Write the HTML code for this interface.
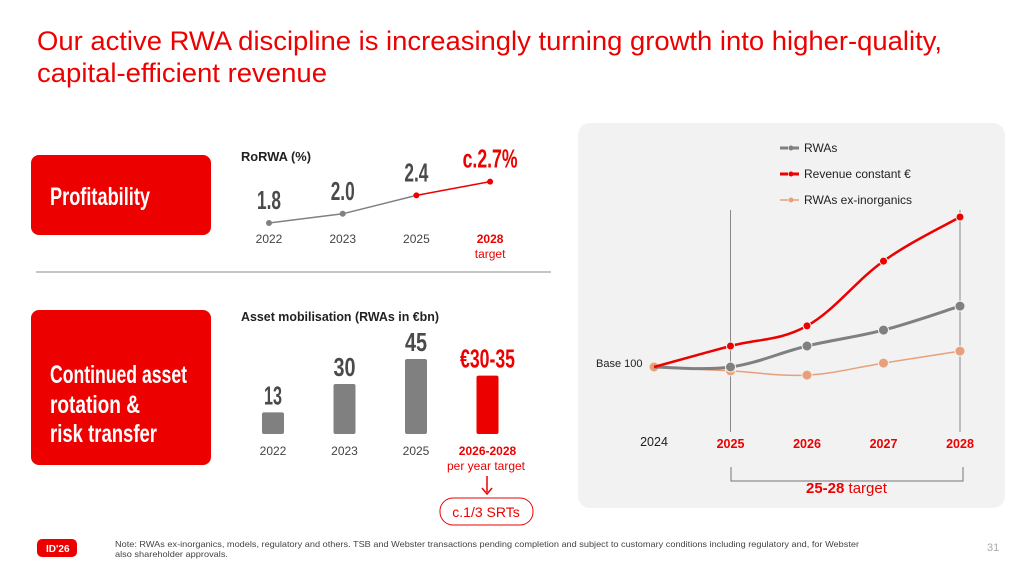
<!DOCTYPE html>
<html><head><meta charset="utf-8"><style>
html,body{margin:0;padding:0;background:#fff;}
svg{display:block;font-family:"Liberation Sans",sans-serif;}
</style></head><body>
<svg id="s" width="1025" height="577" viewBox="0 0 1025 577" xmlns="http://www.w3.org/2000/svg">
<text x="37" y="50" font-size="27" fill="#ec0000" textLength="905" lengthAdjust="spacingAndGlyphs">Our active RWA discipline is increasingly turning growth into higher-quality,</text>
<text x="37" y="82" font-size="27" fill="#ec0000" textLength="290" lengthAdjust="spacingAndGlyphs">capital-efficient revenue</text>

<rect x="31" y="155" width="180" height="80" rx="8" fill="#ec0000"/>
<text x="50" y="205" font-size="25" font-weight="bold" fill="#fff" textLength="100" lengthAdjust="spacingAndGlyphs">Profitability</text>
<line x1="36" y1="272" x2="551" y2="272" stroke="#888" stroke-width="1"/>
<rect x="31" y="310" width="180" height="155" rx="8" fill="#ec0000"/>
<g font-size="25" font-weight="bold" fill="#fff">
<text x="50" y="383" textLength="137" lengthAdjust="spacingAndGlyphs">Continued asset</text>
<text x="50" y="413" textLength="90" lengthAdjust="spacingAndGlyphs">rotation &amp;</text>
<text x="50" y="442" textLength="107" lengthAdjust="spacingAndGlyphs">risk transfer</text>
</g>

<text x="241" y="161" font-size="13" font-weight="bold" fill="#222" textLength="70" lengthAdjust="spacingAndGlyphs">RoRWA (%)</text>
<g id="rorwa"></g>
<text x="241" y="321" font-size="13" font-weight="bold" fill="#222" textLength="198" lengthAdjust="spacingAndGlyphs">Asset mobilisation (RWAs in €bn)</text>
<g id="bars"></g>
<text x="486" y="470" font-size="12" fill="#ec0000" text-anchor="middle">per year target</text>
<line x1="487" y1="476" x2="487" y2="492" stroke="#ec0000" stroke-width="1.5"/>
<path d="M482 488 L487 494 L492 488" fill="none" stroke="#ec0000" stroke-width="1.5"/>
<rect x="440" y="498" width="93" height="27" rx="13" fill="#fff" stroke="#ec0000" stroke-width="1"/>
<text x="486" y="517" font-size="14" fill="#ec0000" text-anchor="middle">c.1/3 SRTs</text>

<rect x="578" y="123" width="427" height="385" rx="12" fill="#f2f2f2"/>
<g font-size="12" fill="#222">
<line x1="780" y1="148" x2="802" y2="148" stroke="#808080" stroke-width="3" stroke-dasharray="8,3"/><circle cx="791" cy="148" r="2.5" fill="#808080"/>
<text x="804" y="152">RWAs</text>
<line x1="780" y1="174" x2="802" y2="174" stroke="#ec0000" stroke-width="3" stroke-dasharray="8,3"/><circle cx="791" cy="174" r="2.5" fill="#ec0000"/>
<text x="804" y="178">Revenue constant €</text>
<line x1="780" y1="200" x2="802" y2="200" stroke="#e8a07a" stroke-width="1.5" stroke-dasharray="8,3"/><circle cx="791" cy="200" r="2.5" fill="#e8a07a"/>
<text x="804" y="204">RWAs ex-inorganics</text>
</g>
<g id="lines"></g>
<text x="596" y="367" font-size="11" fill="#222">Base 100</text>
<path d="M731 467 V481 H963 V467" fill="none" stroke="#777" stroke-width="1"/>
<text x="806" y="493" font-size="15" fill="#ec0000"><tspan font-weight="bold">25-28</tspan> target</text>

<rect x="37" y="539" width="40" height="18" rx="5" fill="#ec0000"/>
<text x="46" y="552" font-size="10" font-weight="bold" fill="#fff">ID'26</text>
<text x="115" y="547" font-size="8.5" fill="#444" textLength="744" lengthAdjust="spacingAndGlyphs">Note: RWAs ex-inorganics, models, regulatory and others. TSB and Webster transactions pending completion and subject to customary conditions including regulatory and, for Webster</text>
<text x="115" y="557" font-size="8.5" fill="#444" textLength="113" lengthAdjust="spacingAndGlyphs">also shareholder approvals.</text>
<text x="987" y="551" font-size="11" fill="#aaa">31</text>
</svg>
<script>
const NS="http://www.w3.org/2000/svg";
// RoRWA data
const rorwaYears=["2022","2023","2025","2028"];
const rorwaValues=[1.8,2.0,2.4,2.7];
const rorwaLabels=["1.8","2.0","2.4","c.2.7%"];
// Asset mobilisation data
const barYears=["2022","2023","2025","2026-2028"];
const barValues=[13,30,45,35];
const barLabels=["13","30","45","€30-35"];
// Line chart data (index, base 100)
const lineYears=["2024","2025","2026","2027","2028"];
const rwaSeries=[100,100,107,112.3,120.3];
const revenueSeries=[100,107,113.7,135.3,150];
const exInorgSeries=[100,98.7,97.3,101.3,105.3];

function mk(tag,attrs,parent,txt){const e=document.createElementNS(NS,tag);for(const k in attrs)e.setAttribute(k,attrs[k]);if(txt!==undefined)e.textContent=txt;parent.appendChild(e);return e;}

// RoRWA
(function(){
const g=document.getElementById('rorwa');
const xr=i=>269+i*73.7;
const yr=v=>223-(v-1.8)*46;
for(let i=0;i<rorwaValues.length-1;i++){
  const l=mk('line',{x1:xr(i),y1:yr(rorwaValues[i]),x2:xr(i+1),y2:yr(rorwaValues[i+1]),stroke:i==2?'#ec0000':'#808080','stroke-width':1.5},g);
  
  
}
rorwaValues.forEach((v,i)=>{
  const red=i==3||i==2;
  const c=mk('circle',{cx:xr(i),cy:yr(v),r:3,fill:red?'#ec0000':'#808080'},g);
  
  
  const t=mk('text',{x:xr(i),y:yr(v)-14,'font-size':26,'font-weight':'bold',fill:i==3?'#ec0000':'#4a4a4a','text-anchor':'middle',textLength:i==3?55:24,lengthAdjust:'spacingAndGlyphs'},g,rorwaLabels[i]);
  
  
  const y=mk('text',{x:xr(i),y:243,'font-size':12,fill:i==3?'#ec0000':'#444','text-anchor':'middle','font-weight':i==3?'bold':'normal'},g,rorwaYears[i]);
  
  
});
mk('text',{x:xr(3),y:258,'font-size':12,fill:'#ec0000','text-anchor':'middle'},g,'target');
})();

// Bars
(function(){
const g=document.getElementById('bars');
const xb=i=>273+i*71.5;
const h=v=>v*1.667;
const base=434;
barValues.forEach((v,i)=>{
  const red=i==3;
  const r=mk('rect',{x:xb(i)-11,y:base-h(v),width:22,height:h(v),rx:2,fill:red?'#ec0000':'#808080'},g);
  
  
  const t=mk('text',{x:xb(i),y:base-h(v)-8,'font-size':26,'font-weight':'bold',fill:red?'#ec0000':'#4a4a4a','text-anchor':'middle',textLength:red?55:(v<20?18:22),lengthAdjust:'spacingAndGlyphs'},g,barLabels[i]);
  
  
  const y=mk('text',{x:xb(i),y:455,'font-size':12,fill:red?'#ec0000':'#444','text-anchor':'middle','font-weight':red?'bold':'normal'},g,barYears[i]);
  
  
});
})();

// Lines
(function(){
const g=document.getElementById('lines');
const xl=i=>654+i*76.5;
const yl=v=>367-(v-100)*3;
[1,4].forEach(i=>{const l=mk('line',{x1:xl(i),y1:210,x2:xl(i),y2:432,stroke:'#888','stroke-width':1},g);

});
function smooth(pts){let d='M'+pts[0][0]+' '+pts[0][1];for(let i=0;i<pts.length-1;i++){const p0=pts[i-1]||pts[i],p1=pts[i],p2=pts[i+1],p3=pts[i+2]||p2;const t=0.18;d+=' C'+(p1[0]+(p2[0]-p0[0])*t)+' '+(p1[1]+(p2[1]-p0[1])*t)+' '+(p2[0]-(p3[0]-p1[0])*t)+' '+(p2[1]-(p3[1]-p1[1])*t)+' '+p2[0]+' '+p2[1];}return d;}
const series=[[exInorgSeries,'#e8a07a',1.5,'series-rwas-ex-inorganics',5],[rwaSeries,'#808080',3,'series-rwas',5],[revenueSeries,'#ec0000',2.5,'series-revenue',4]];
series.forEach(([vals,col,w,name,r])=>{
  const pts=vals.map((v,i)=>[xl(i),yl(v)]);
  const p=mk('path',{d:smooth(pts),fill:'none',stroke:col,'stroke-width':w},g);
  
  
  pts.forEach((q,i)=>{
    if(i==0&&name!='series-rwas-ex-inorganics')return;
    const c=mk('circle',{cx:q[0],cy:q[1],r:r,fill:col,stroke:'#f2f2f2','stroke-width':1},g);
    
    
  });
});
lineYears.forEach((y,i)=>{
  const t=mk('text',{x:xl(i),y:i==0?446:448,'font-size':12.5,fill:i==0?'#222':'#ec0000','text-anchor':'middle','font-weight':i==0?'normal':'bold'},g,y);
  
  
});
})();
</script>
</body></html>
